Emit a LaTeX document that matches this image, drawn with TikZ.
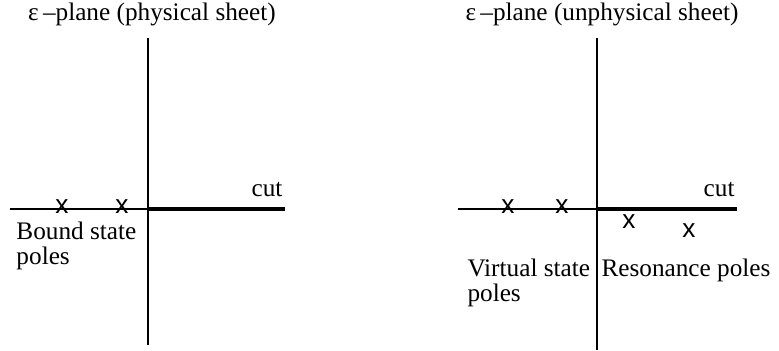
\documentclass[tikz,border=0pt]{standalone}
\usepackage{fontspec}
\setmainfont{Liberation Serif}
\newfontfamily\polefont{Liberation Sans}
\usetikzlibrary{positioning}

\begin{document}
\begin{tikzpicture}[
    x=0.4pt, y=-0.4pt,
    every node/.style={font=\fontsize{10.1}{10}\selectfont, inner sep=0pt},
    axis/.style={line width=0.45pt},
    cutline/.style={line width=1.3pt},
    pole/.style={font=\polefont\fontsize{10.5}{11}\selectfont},
    label/.style={align=left, anchor=west}
]
\useasboundingbox (0,0) rectangle (779,351);

% physical sheet
\node (title1) at (152,14) {ε\,–plane (physical sheet)};
\coordinate (top1) at (148,38);
\coordinate (bot1) at (148,345);
\coordinate (left1) at (10,209);
\coordinate (orig1) at (148,209);
\coordinate (right1) at (285,209);
\draw[axis] (top1) -- (bot1);
\draw[axis] (left1) -- (orig1);
\draw[cutline] (orig1) -- (right1);
\node[anchor=base east] (cut1) at (283,197) {cut};
\node[pole] (b1) at (62,207) {x};
\node[pole] (b2) at (122,207) {x};
\node[label] (bound) at (16,246) {Bound state\\poles};

% unphysical sheet
\node (title2) at (602,14) {ε\,–plane (unphysical sheet)};
\coordinate (top2) at (597,38);
\coordinate (bot2) at (597,350);
\coordinate (left2) at (458,209);
\coordinate (orig2) at (597,209);
\coordinate (right2) at (737,209);
\draw[axis] (top2) -- (bot2);
\draw[axis] (left2) -- (orig2);
\draw[cutline] (orig2) -- (right2);
\node[anchor=base east] (cut2) at (735,197) {cut};
\node[pole] (v1) at (508,207) {x};
\node[pole] (v2) at (562,207) {x};
\node[pole] (r1) at (629,222) {x};
\node[pole] (r2) at (689,231) {x};
\node[label] (virtual) at (467,283) {Virtual state\\poles};
\node[label] (reson) at (601,270) {Resonance poles};

\end{tikzpicture}
\end{document}
